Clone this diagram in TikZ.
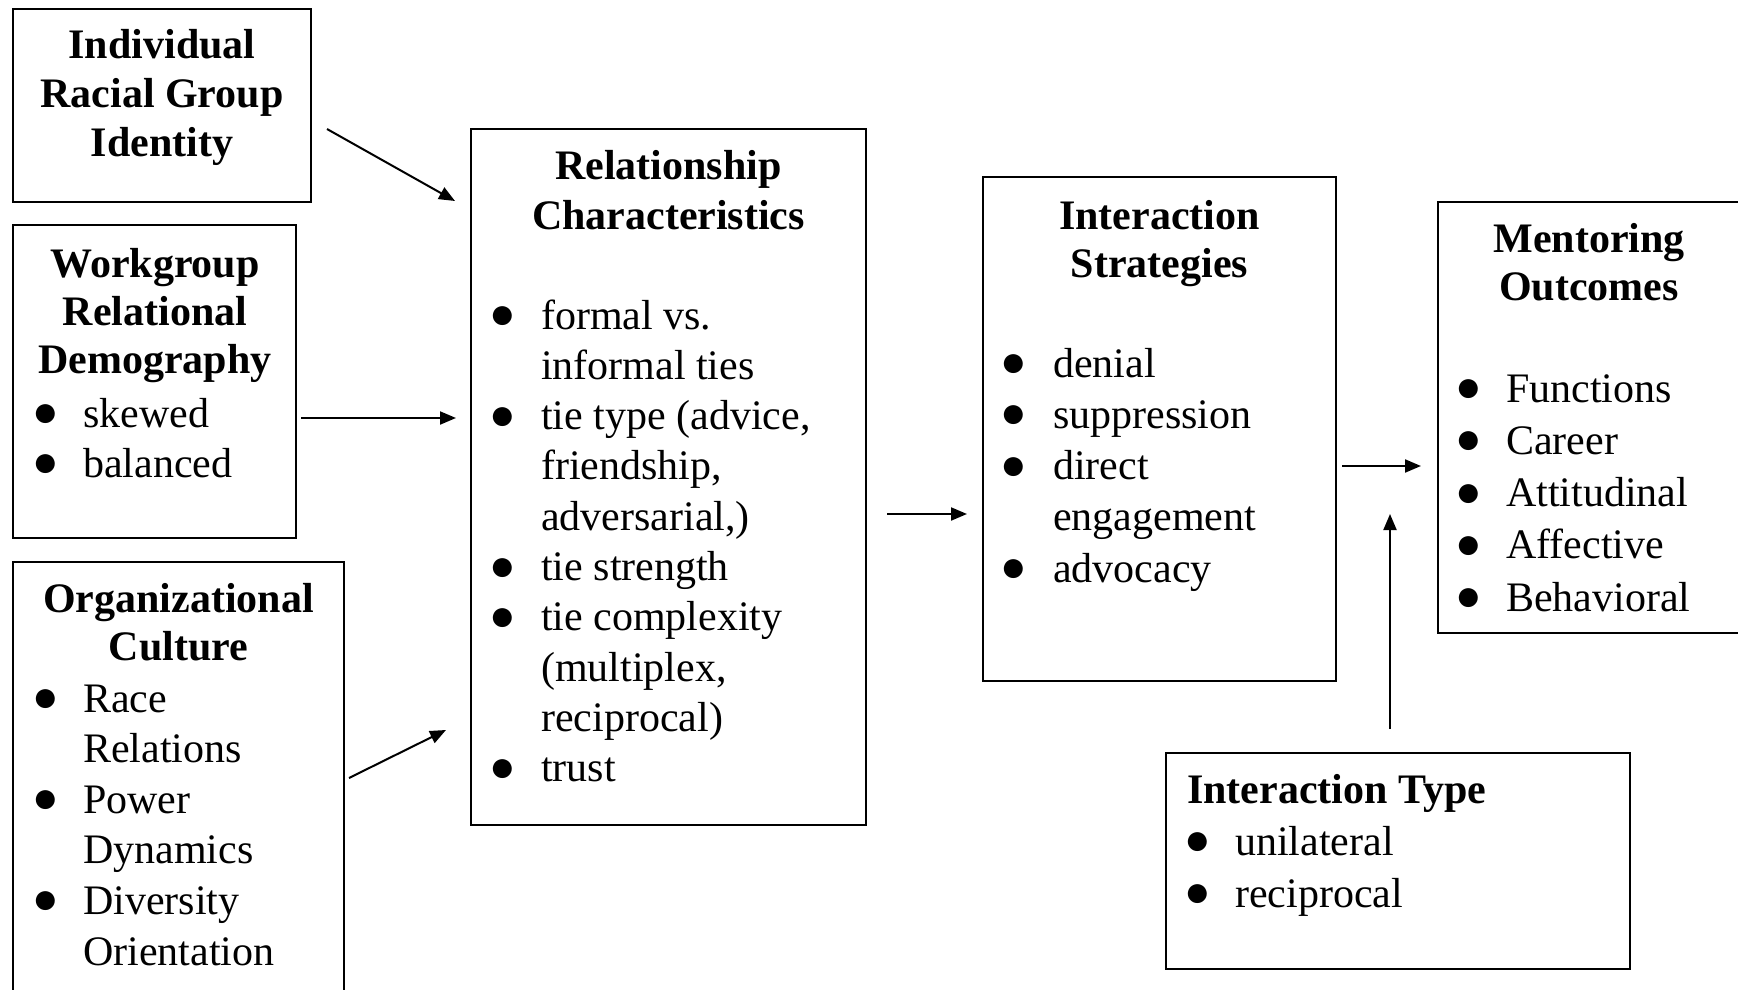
\documentclass[tikz,border=0pt]{standalone}
\usepackage{fontspec}
\setmainfont{Liberation Serif}
\usetikzlibrary{arrows.meta}

% a larger round bullet (black circle glyph), centred on the lower-case letters
\newcommand\bigbullet{\raisebox{0.5pt}{\fontsize{44}{44}\selectfont ●}}
% bulleted list: optional width of the bullet column, then the rows
\newcommand\bulletlist[2][51]{\begin{tabular}[t]{@{}p{#1pt}@{}l@{}}#2\end{tabular}}
\newcommand\headlines[1]{\begin{tabular}[t]{@{}c@{}}#1\end{tabular}}

\begin{document}
\begin{tikzpicture}[x=1pt,y=-1pt,
  box/.style={draw, line width=2pt, anchor=north west, inner sep=0pt, outer sep=0pt},
  head/.style={anchor=base, inner sep=0pt, font=\bfseries\fontsize{42}{#1}\selectfont},
  head/.default=48,
  items/.style={anchor=base west, inner sep=0pt, font=\fontsize{42}{#1}\selectfont},
  items/.default=50,
  conn/.style={line width=2pt, -{Triangle[length=16pt,width=13pt]}}]

\useasboundingbox (0,0) rectangle (1738,990);
\clip (0,0) rectangle (1738,990);

% ---- boxes ----
\node[box, minimum width=298, minimum height=193] (ind) at (13,9) {};
\node[box, minimum width=283, minimum height=313] (wrk) at (13,225) {};
\node[box, minimum width=331, minimum height=440] (org) at (13,562) {};
\node[box, minimum width=395, minimum height=696] (rel) at (471,129) {};
\node[box, minimum width=353, minimum height=504] (ist) at (983,177) {};
\node[box, minimum width=303, minimum height=431] (mo)  at (1438,202) {};
\node[box, minimum width=464, minimum height=216] (ity) at (1166,753) {};

% ---- headings ----
\node[head=49] (indH) at (162,59) {\headlines{Individual\\Racial Group\\Identity}};
\node[head] (wrkH) at (155,277) {\headlines{Workgroup\\Relational\\Demography}};
\node[head] (orgH) at (178.5,612) {\headlines{Organizational\\Culture}};
\node[head=50] (relH) at (668.5,179) {\headlines{Relationship\\Characteristics}};
\node[head] (istH) at (1159.5,229) {\headlines{Interaction\\Strategies}};
\node[head] (moH) at (1589,252) {\headlines{Mentoring\\Outcomes}};
\node[head, anchor=base west] (ityH) at (1187,803) {Interaction Type};

% ---- bullet lists ----
\node[items=50] (wrkL) at (32,427) {\bulletlist{%
  \bigbullet & skewed\\
  \bigbullet & balanced}};
\node[items=50.6] (orgL) at (32,712) {\bulletlist{%
  \bigbullet & Race\\
  & Relations\\
  \bigbullet & Power\\
  & Dynamics\\
  \bigbullet & Diversity\\
  & Orientation}};
\node[items=50.3] (relL) at (489,329) {\bulletlist[52]{%
  \bigbullet & formal vs.\\
  & informal ties\\
  \bigbullet & tie type (advice,\\
  & friendship,\\
  & adversarial,)\\
  \bigbullet & tie strength\\
  \bigbullet & tie complexity\\
  & (multiplex,\\
  & reciprocal)\\
  \bigbullet & trust}};
\node[items=51.25] (istL) at (1000,377) {\bulletlist[53]{%
  \bigbullet & denial\\
  \bigbullet & suppression\\
  \bigbullet & direct\\
  & engagement\\
  \bigbullet & advocacy}};
\node[items=52.25] (moL) at (1455,402) {\bulletlist{%
  \bigbullet & Functions\\
  \bigbullet & Career\\
  \bigbullet & Attitudinal\\
  \bigbullet & Affective\\
  \bigbullet & Behavioral}};
\node[items=52] (ityL) at (1184,855) {\bulletlist{%
  \bigbullet & unilateral\\
  \bigbullet & reciprocal}};

% ---- connector end points ----
\coordinate (a1s) at (327,129);  \coordinate (a1e) at (455,201);
\coordinate (a2s) at (301,418);  \coordinate (a2e) at (456,418);
\coordinate (a3s) at (349,778);  \coordinate (a3e) at (446,730);
\coordinate (a4s) at (887,514);  \coordinate (a4e) at (967,514);
\coordinate (a5s) at (1342,466); \coordinate (a5e) at (1421,466);
\coordinate (a6s) at (1390,729); \coordinate (a6e) at (1390,514);

% ---- connectors ----
\draw[conn] (a1s) -- (a1e);
\draw[conn] (a2s) -- (a2e);
\draw[conn] (a3s) -- (a3e);
\draw[conn] (a4s) -- (a4e);
\draw[conn] (a5s) -- (a5e);
\draw[conn] (a6s) -- (a6e);
\end{tikzpicture}
\end{document}
